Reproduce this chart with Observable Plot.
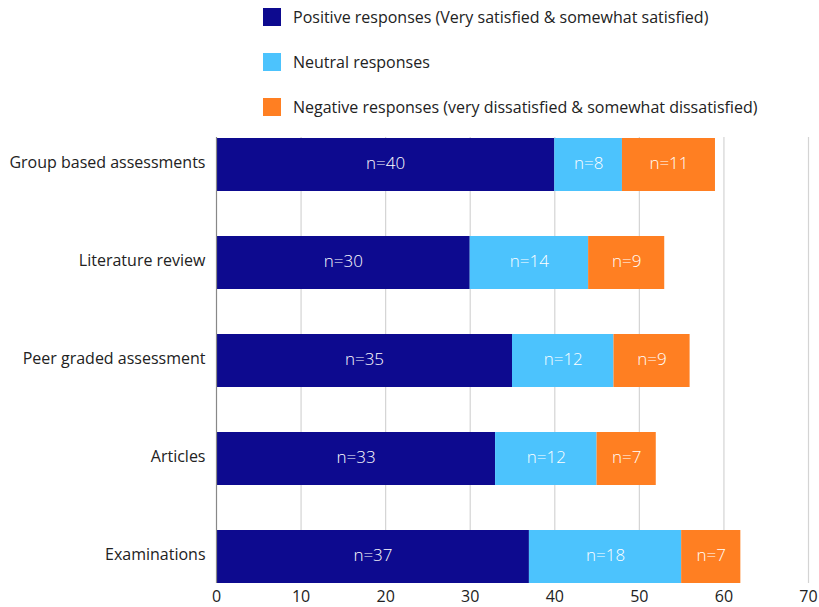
<!DOCTYPE html>
<html>
<head>
<meta charset="utf-8">
<script src="https://cdn.jsdelivr.net/npm/d3@7"></script>
<script src="https://cdn.jsdelivr.net/npm/@observablehq/plot@0.6"></script>
<style>
  html, body { margin: 0; padding: 0; background: #fff; }
  body { font-family: "Open Sans", "Noto Sans", sans-serif; position: relative; width: 819px; height: 607px; overflow: hidden; }
  #legend { position: absolute; left: 263px; top: 0; }
  .item { position: absolute; left: 0; display: flex; align-items: center; white-space: nowrap; font-size: 16px; color: #222; }
  .sw { width: 18px; height: 18px; margin-right: 12px; flex: none; }
  #chart { position: absolute; left: 0; top: 0; }
</style>
</head>
<body>
<div id="chart"></div>
<div id="legend"></div>
<script>
const categories = ["Group based assessments", "Literature review", "Peer graded assessment", "Articles", "Examinations"];
const seriesNames = [
  "Positive responses (Very satisfied & somewhat satisfied)",
  "Neutral responses",
  "Negative responses (very dissatisfied & somewhat dissatisfied)"
];
const positive = [40, 30, 35, 33, 37];
const neutral = [8, 14, 12, 12, 18];
const negative = [11, 9, 9, 7, 7];
const colors = ["#0d0a8f", "#4cc3fd", "#ff7f22"];
const xTicks = [0, 10, 20, 30, 40, 50, 60, 70];

const seriesValues = [positive, neutral, negative];
const data = [];
categories.forEach((c, i) => {
  seriesNames.forEach((s, j) => {
    data.push({category: c, series: s, value: seriesValues[j][i]});
  });
});

const legend = document.getElementById("legend");
seriesNames.forEach((s, j) => {
  const it = document.createElement("div");
  it.className = "item";
  it.style.top = (8 + j * 45) + "px";
  it.style.height = "18px";
  const sw = document.createElement("div");
  sw.className = "sw";
  sw.style.background = colors[j];
  const t = document.createElement("span");
  t.textContent = s;
  it.appendChild(sw);
  it.appendChild(t);
  legend.appendChild(it);
});

const plot = Plot.plot({
  width: 819,
  height: 607,
  marginTop: 137,
  marginBottom: 24,
  marginLeft: 216,
  marginRight: 11,
  style: {fontFamily: "'Open Sans', 'Noto Sans', sans-serif", fontSize: "16px", color: "#222", background: "#fff"},
  x: {domain: [0, 70], ticks: xTicks, label: null},
  y: {domain: categories, paddingInner: 0.46, paddingOuter: 0, label: null},
  color: {domain: seriesNames, range: colors},
  marks: [
    Plot.ruleX(xTicks.filter(d => d > 0), {stroke: "#d4d4d4", strokeWidth: 1.2}),
    Plot.axisX({ticks: xTicks, tickSize: 0, tickPadding: 7, fontSize: 16, fill: "#222", label: null}),
    Plot.axisY({tickSize: 0, tickPadding: 11, fontSize: 16, fill: "#222", dy: -2, label: null}),
    Plot.barX(data, Plot.stackX({x: "value", y: "category", fill: "series", order: null})),
    Plot.text(data, Plot.stackX({x: "value", y: "category", z: "series", order: null, text: d => "n=" + d.value, fill: "white", fontSize: 17, fontWeight: 300, dy: -1})),
    Plot.ruleX([0], {stroke: "#888", strokeWidth: 1.2})
  ]
});
document.getElementById("chart").appendChild(plot);
</script>
</body>
</html>
